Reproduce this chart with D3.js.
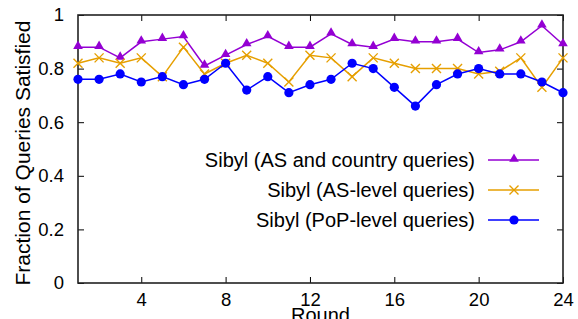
<!DOCTYPE html>
<html>
<head>
<meta charset="utf-8">
<script src="https://cdn.jsdelivr.net/npm/d3@7"></script>
<style>
body { margin: 0; background: #fff; }
svg text { font-family: "Liberation Sans", Arial, sans-serif; fill: #000; }
</style>
</head>
<body>
<div class="container"></div>
<script>
var rounds = d3.range(1, 25);
var asCountry = [0.88, 0.88, 0.84, 0.90, 0.91, 0.92, 0.81, 0.85, 0.89, 0.92, 0.88, 0.88,
                 0.93, 0.89, 0.88, 0.91, 0.90, 0.90, 0.91, 0.86, 0.87, 0.90, 0.96, 0.89];
var asLevel = [0.82, 0.84, 0.82, 0.84, 0.77, 0.88, 0.78, 0.82, 0.85, 0.82, 0.75, 0.85,
               0.84, 0.77, 0.84, 0.82, 0.80, 0.80, 0.80, 0.78, 0.79, 0.84, 0.73, 0.84];
var popLevel = [0.76, 0.76, 0.78, 0.75, 0.77, 0.74, 0.76, 0.82, 0.72, 0.77, 0.71, 0.74,
                0.76, 0.82, 0.80, 0.73, 0.66, 0.74, 0.78, 0.80, 0.78, 0.78, 0.75, 0.71];
var xTicks = [4, 8, 12, 16, 20, 24];
var yTicks = [0, 0.2, 0.4, 0.6, 0.8, 1];

var series = [
  {name: 'Sibyl (AS and country queries)', values: asCountry, color: '#9400d3', mark: 'triangle'},
  {name: 'Sibyl (AS-level queries)', values: asLevel, color: '#e69f00', mark: 'cross'},
  {name: 'Sibyl (PoP-level queries)', values: popLevel, color: '#0000ff', mark: 'circle'}
];

var w = 578, h = 319;
var pLeft = 78, pRight = 563, pTop = 15, pBottom = 283;

var svg = d3.select('.container').append('svg')
  .attr('width', w)
  .attr('height', h);

var x = d3.scaleLinear().domain([1, 24]).range([pLeft, pRight]);
var y = d3.scaleLinear().domain([0, 1]).range([pBottom, pTop]);

// axes, gnuplot style: ticks inward, mirrored
svg.append('g')
  .attr('transform', 'translate(0,' + pBottom + ')')
  .call(d3.axisBottom(x).tickValues(xTicks).tickSizeInner(-6).tickSizeOuter(0).tickPadding(10))
  .call(g => g.select('.domain').remove())
  .selectAll('text').style('font-size', '18.5px');
svg.append('g')
  .attr('transform', 'translate(0,' + pTop + ')')
  .call(d3.axisTop(x).tickValues(xTicks).tickSizeInner(-6).tickSizeOuter(0).tickFormat(''))
  .call(g => g.select('.domain').remove());
svg.append('g')
  .attr('transform', 'translate(' + pLeft + ',0)')
  .call(d3.axisLeft(y).tickValues(yTicks).tickSizeInner(-6).tickSizeOuter(0).tickPadding(14)
        .tickFormat(d3.format('')))
  .call(g => g.select('.domain').remove())
  .selectAll('text').style('font-size', '18.5px');
svg.append('g')
  .attr('transform', 'translate(' + pRight + ',0)')
  .call(d3.axisRight(y).tickValues(yTicks).tickSizeInner(-6).tickSizeOuter(0).tickFormat(''))
  .call(g => g.select('.domain').remove());

svg.append('rect')
  .attr('x', pLeft).attr('y', pTop)
  .attr('width', pRight - pLeft).attr('height', pBottom - pTop)
  .attr('fill', 'none').attr('stroke', '#222').attr('stroke-width', 1.6);

svg.append('text')
  .attr('transform', 'rotate(-90)')
  .attr('x', -(pTop + pBottom) / 2 - 4)
  .attr('y', 30)
  .attr('text-anchor', 'middle')
  .style('font-size', '21px')
  .text('Fraction of Queries Satisfied');

svg.append('text')
  .attr('x', (pLeft + pRight) / 2)
  .attr('y', 322)
  .attr('text-anchor', 'middle')
  .style('font-size', '20px')
  .text('Round');

function drawMark(g, mark, cx, cy, color) {
  if (mark === 'triangle') {
    g.append('path')
      .attr('d', d3.symbol().type(d3.symbolTriangle).size(40)())
      .attr('transform', 'translate(' + cx + ',' + (cy - 1) + ')')
      .attr('fill', color);
  } else if (mark === 'cross') {
    g.append('path')
      .attr('d', 'M-4.5,-4.5L4.5,4.5M-4.5,4.5L4.5,-4.5')
      .attr('transform', 'translate(' + cx + ',' + cy + ')')
      .attr('stroke', color).attr('stroke-width', 1.4);
  } else {
    g.append('circle')
      .attr('cx', cx).attr('cy', cy).attr('r', 4.6)
      .attr('fill', color);
  }
}

var line = d3.line()
  .x((d, i) => x(rounds[i]))
  .y(d => y(d));

series.forEach(function(s) {
  var g = svg.append('g');
  g.append('path')
    .attr('d', line(s.values))
    .attr('fill', 'none')
    .attr('stroke', s.color)
    .attr('stroke-width', 1.5);
  s.values.forEach(function(v, i) {
    drawMark(g, s.mark, x(rounds[i]), y(v), s.color);
  });
});

// legend
var legend = svg.append('g');
series.forEach(function(s, i) {
  var ly = 160 + i * 30;
  legend.append('text')
    .attr('x', 475).attr('y', ly)
    .attr('dy', '0.35em')
    .attr('text-anchor', 'end')
    .style('font-size', '20px')
    .text(s.name);
  legend.append('line')
    .attr('x1', 488).attr('x2', 539)
    .attr('y1', ly).attr('y2', ly)
    .attr('stroke', s.color).attr('stroke-width', 1.5);
  drawMark(legend, s.mark, 514, ly, s.color);
});
</script>
</body>
</html>
